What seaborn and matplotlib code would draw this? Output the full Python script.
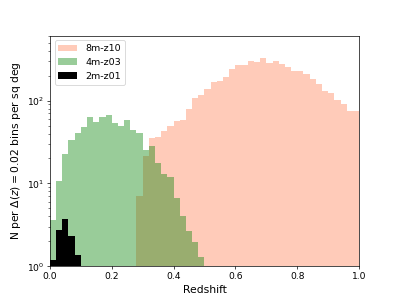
import numpy as np
import pandas as pd
import matplotlib
matplotlib.use("Agg")
import matplotlib.pyplot as plt
import seaborn as sns

# Histogram values (N per dz=0.02 bin per sq deg), bins of width 0.02 on [0, 1]
bin_width = 0.02
labels = ["8m-z10", "4m-z03", "2m-z01"]

start_8m = 0.28
counts_8m = [7.1, 21.7, 35.5, 36.8, 42.7, 49.6, 56.4, 58.6, 80, 108,
             116, 137, 169, 172, 196, 239, 268, 273, 305, 291,
             332, 286, 303, 278, 253, 229, 229, 208, 185, 158,
             132, 125, 102, 90, 74.5, 74.5]

start_4m = 0.0
counts_4m = [3.6, 10.8, 22.8, 33.6, 40.4, 48.7, 63, 55.5, 64, 68,
             54, 50, 58.6, 44.8, 41.2, 25, 28, 17.5, 13.1, 12.1,
             6.7, 4.0, 2.65, 1.93, 1.28]

start_2m = 0.0
counts_2m = [1.17, 2.7, 3.73, 2.33, 1.37]

colors = ["coral", "green", "black"]
alphas = [0.4, 0.4, 1.0]


def to_frame(start, counts):
    z = start + bin_width * (np.arange(len(counts)) + 0.5)
    return pd.DataFrame({"z": z, "w": np.asarray(counts, dtype=float)})


fig, ax = plt.subplots(figsize=(6.4, 4.8), dpi=62.34)

for (start, counts), lab, col, a in zip(
        [(start_8m, counts_8m), (start_4m, counts_4m), (start_2m, counts_2m)],
        labels, colors, alphas):
    df = to_frame(start, counts)
    sns.histplot(data=df, x="z", weights="w", binwidth=bin_width,
                 binrange=(start, start + bin_width * len(counts)), ax=ax,
                 color=col, alpha=a, label=lab, linewidth=0)

ax.set_yscale("log")
ax.set_xlim(0, 1)
ax.set_ylim(1, 611)
ax.set_xticks([0.0, 0.2, 0.4, 0.6, 0.8, 1.0])
ax.tick_params(labelsize=10.5)
ax.set_xlabel("Redshift", fontsize=12.4)
ax.set_ylabel(r"N per $\Delta(z)=0.02$ bins per sq deg", fontsize=12.4)
ax.legend(loc="upper left", fontsize=11)

fig.savefig("out.png", dpi=62.34)
